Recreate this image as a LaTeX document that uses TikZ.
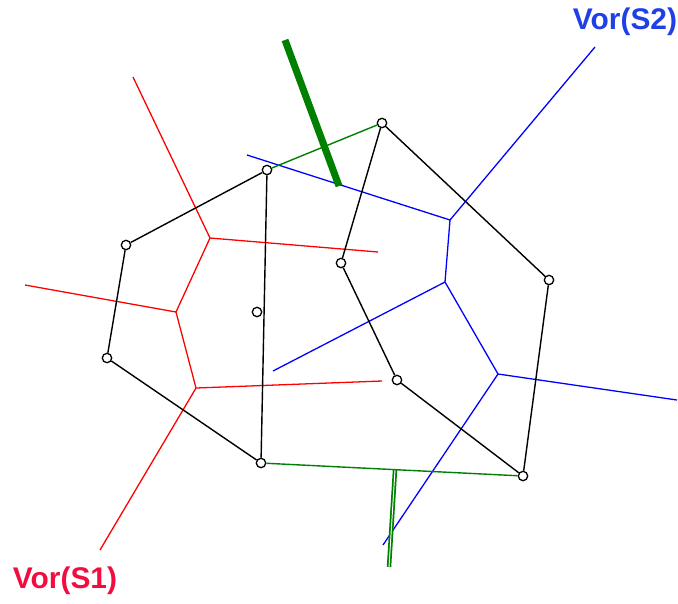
\documentclass[tikz,border=0pt]{standalone}
\usepackage{fontspec}
\setmainfont{Liberation Sans}
\usepackage{xcolor}
\definecolor{vorred}{rgb}{1.0, 0.0, 0.0}
\definecolor{vorblue}{rgb}{0.0, 0.0, 1.0}
\definecolor{hullgreen}{rgb}{0.0, 0.5, 0.0}
\definecolor{labred}{rgb}{0.95, 0.05, 0.25}
\definecolor{labblue}{rgb}{0.12, 0.25, 0.9}
\usetikzlibrary{positioning}
\tikzset{
  site/.style={circle, draw, line width=1.1pt, inner sep=0pt, minimum size=8pt},
  hull/.style={line width=1.2pt},
  vred/.style={vorred, line width=1.1pt},
  vblue/.style={vorblue, line width=1.1pt},
  bridge/.style={hullgreen, line width=1.2pt},
}
\begin{document}
\begin{tikzpicture}[x=0.03cm, y=-0.03cm]
    \useasboundingbox (0,0) rectangle (678,603);

    % =====================
    % Vor(S1)
    % =====================
    \coordinate (r1) at (210,238);
    \coordinate (r2) at (176,312);
    \coordinate (r3) at (196,388);
    \draw[vred] (133,77) -- (r1) -- (378,252);
    \draw[vred] (r1) -- (r2) -- (25,285);
    \draw[vred] (r2) -- (r3) -- (382,381);
    \draw[vred] (r3) -- (100,550);

    % =====================
    % Vor(S2)
    % =====================
    \coordinate (u1) at (450,220);
    \coordinate (u2) at (445,282);
    \coordinate (u3) at (498,374);
    \draw[vblue] (247,155) -- (u1) -- (595,47);
    \draw[vblue] (u1) -- (u2) -- (273,371);
    \draw[vblue] (u2) -- (u3) -- (677,400);
    \draw[vblue] (u3) -- (383,545);

    % =====================
    % Sites of S1
    % =====================
    \node[site] (a) at (267,170) {};
    \node[site] (b) at (126,245) {};
    \node[site] (c) at (107,358) {};
    \node[site] (d) at (261,463) {};
    \node[site] (e) at (257,312) {};

    % =====================
    % Sites of S2
    % =====================
    \node[site] (f) at (382,123) {};
    \node[site] (g) at (341,263) {};
    \node[site] (h) at (549,280) {};
    \node[site] (i) at (397,380) {};
    \node[site] (j) at (523,476) {};

    % =====================
    % Hulls
    % =====================
    \draw[hull] (a) -- (b) -- (c) -- (d) -- (a);
    \draw[hull] (f) -- (g) -- (i) -- (j) -- (h) -- (f);
    \draw[bridge] (a) -- (f);
    \draw[bridge] (d) -- (j);

    % =====================
    % Merge chain ends
    % =====================
    \draw[hullgreen, line width=6pt] (285,40) -- (339,186);
    \draw[hullgreen, line width=1.5pt, double=white, double distance=0.8pt] (395,470) -- (389,567);

    % =====================
    % Labels
    % =====================
    \node[labred, font=\fontsize{25.5}{30}\selectfont\bfseries] (l1) at (65,581) {Vor(S1)};
    \node[labblue, font=\fontsize{25.5}{30}\selectfont\bfseries] (l2) at (625,22) {Vor(S2)};

    \end{tikzpicture}
\end{document}
